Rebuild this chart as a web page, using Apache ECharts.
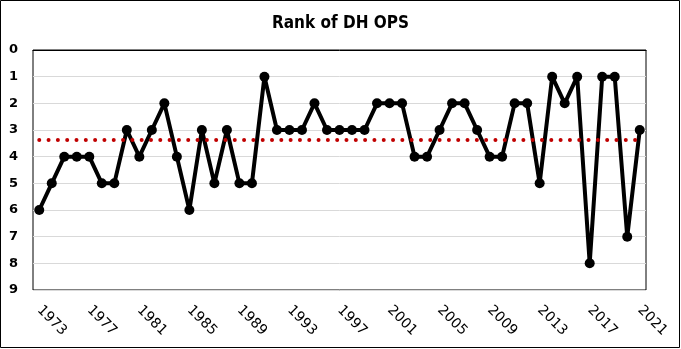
<!DOCTYPE html>
<html>
<head>
<meta charset="utf-8">
<script src="https://cdn.jsdelivr.net/npm/echarts@6/dist/echarts.min.js"></script>
<style>
html,body{margin:0;padding:0;background:#fff;}
#chart{width:681px;height:349px;}
</style>
</head>
<body>
<div id="chart"></div>
<script>
var years = ['1973','1974','1975','1976','1977','1978','1979','1980','1981','1982','1983','1984','1985','1986','1987','1988','1989','1990','1991','1992','1993','1994','1995','1996','1997','1998','1999','2000','2001','2002','2003','2004','2005','2006','2007','2008','2009','2010','2011','2012','2013','2014','2015','2016','2017','2018','2019','2020','2021'];
var ranks = [6,5,4,4,4,5,5,3,4,3,2,4,6,3,5,3,5,5,1,3,3,3,2,3,3,3,3,2,2,2,4,4,3,2,2,3,4,4,2,2,5,1,2,1,8,1,1,7,3];
var averageRank = 3.37;
var yTicks = [0,1,2,3,4,5,6,7,8,9];

var chart = echarts.init(document.getElementById('chart'), null, {renderer:'canvas'});
chart.setOption({
  animation:false,
  backgroundColor:'#fff',
  title:{
    text:'Rank of DH OPS',
    left:'center', top:10,
    textStyle:{fontFamily:'DejaVu Sans Condensed', fontWeight:'bold', fontSize:17, color:'#000'}
  },
  graphic:[{type:'rect', shape:{x:0.5,y:0.5,width:679,height:347}, style:{fill:null, stroke:'#000', lineWidth:1}, silent:true}],
  grid:{left:33, right:35, top:50, bottom:59, show:true, borderColor:'#000', borderWidth:1},
  xAxis:{
    type:'category', data:years, boundaryGap:true,
    axisLine:{show:true, lineStyle:{color:'#000', width:1}},
    axisTick:{show:false},
    axisLabel:{interval:3, rotate:-45, margin:18, fontFamily:'DejaVu Sans', fontSize:14, color:'#000'},
    splitLine:{show:false}
  },
  yAxis:{
    type:'value', min:yTicks[0], max:yTicks[yTicks.length-1], interval:1, inverse:true,
    axisLine:{show:false}, axisTick:{show:false},
    axisLabel:{margin:15, fontFamily:'DejaVu Sans', fontWeight:'bold', fontSize:13, color:'#000'},
    splitLine:{show:true, lineStyle:{color:'#d9d9d9', width:1}}
  },
  series:[{
    type:'line', data:ranks,
    lineStyle:{color:'#000', width:4},
    itemStyle:{color:'#000'},
    symbol:'circle', symbolSize:10, showAllSymbol:true,
    z:3,
    markLine:{
      silent:true, symbol:['none','none'], label:{show:false},
      lineStyle:{color:'#c00000', width:4, type:[0.01,9.3], cap:'round'},
      data:[[{coord:[years[0], averageRank]},{coord:[years[years.length-1], averageRank]}]]
    }
  }]
});
</script>
</body>
</html>
